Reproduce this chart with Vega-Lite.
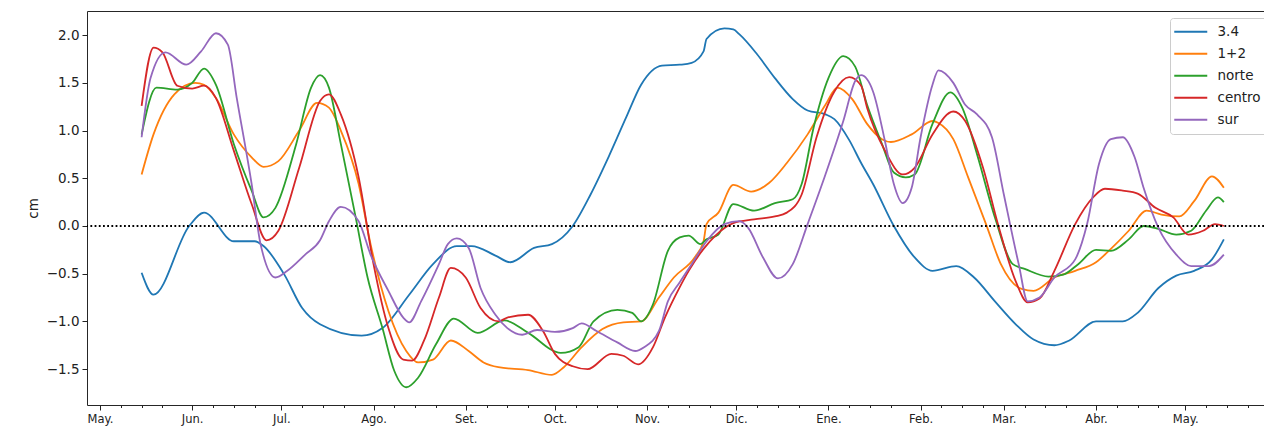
{
  "$schema": "https://vega.github.io/schema/vega-lite/v6.json",
  "width": 1177,
  "height": 394,
  "autosize": {"type": "none"},
  "padding": {"left": 87, "top": 11, "right": 0, "bottom": 27},
  "background": "white",
  "config": {
    "view": {"stroke": "#262626", "strokeWidth": 1},
    "font": "DejaVu Sans"
  },
  "datasets": {
    "series": [
      {"s":"3.4","d":"2024-05-15","v":-0.49},{"s":"3.4","d":"2024-05-19","v":-0.72},{"s":"3.4","d":"2024-05-31","v":0.0},{"s":"3.4","d":"2024-06-05","v":0.14},{"s":"3.4","d":"2024-06-15","v":-0.16},{"s":"3.4","d":"2024-06-22","v":-0.16},{"s":"3.4","d":"2024-06-25","v":-0.21},{"s":"3.4","d":"2024-07-02","v":-0.51},{"s":"3.4","d":"2024-07-08","v":-0.86},{"s":"3.4","d":"2024-07-14","v":-1.03},{"s":"3.4","d":"2024-07-28","v":-1.15},{"s":"3.4","d":"2024-08-04","v":-1.07},{"s":"3.4","d":"2024-08-13","v":-0.72},{"s":"3.4","d":"2024-08-21","v":-0.40},{"s":"3.4","d":"2024-08-29","v":-0.21},{"s":"3.4","d":"2024-09-03","v":-0.21},{"s":"3.4","d":"2024-09-11","v":-0.31},{"s":"3.4","d":"2024-09-16","v":-0.38},{"s":"3.4","d":"2024-09-24","v":-0.23},{"s":"3.4","d":"2024-09-30","v":-0.19},{"s":"3.4","d":"2024-10-07","v":0.0},{"s":"3.4","d":"2024-10-13","v":0.33},{"s":"3.4","d":"2024-10-19","v":0.72},{"s":"3.4","d":"2024-10-25","v":1.14},{"s":"3.4","d":"2024-10-30","v":1.48},{"s":"3.4","d":"2024-11-06","v":1.68},{"s":"3.4","d":"2024-11-12","v":1.69},{"s":"3.4","d":"2024-11-16","v":1.71},{"s":"3.4","d":"2024-11-20","v":1.83},{"s":"3.4","d":"2024-11-21","v":1.96},{"s":"3.4","d":"2024-11-27","v":2.07},{"s":"3.4","d":"2024-11-30","v":2.06},{"s":"3.4","d":"2024-12-02","v":2.01},{"s":"3.4","d":"2024-12-08","v":1.80},{"s":"3.4","d":"2024-12-14","v":1.55},{"s":"3.4","d":"2024-12-20","v":1.33},{"s":"3.4","d":"2024-12-25","v":1.21},{"s":"3.4","d":"2024-12-31","v":1.17},{"s":"3.4","d":"2025-01-03","v":1.12},{"s":"3.4","d":"2025-01-08","v":0.90},{"s":"3.4","d":"2025-01-12","v":0.66},{"s":"3.4","d":"2025-01-16","v":0.44},{"s":"3.4","d":"2025-01-23","v":0.0},{"s":"3.4","d":"2025-01-30","v":-0.33},{"s":"3.4","d":"2025-02-05","v":-0.47},{"s":"3.4","d":"2025-02-13","v":-0.42},{"s":"3.4","d":"2025-02-19","v":-0.54},{"s":"3.4","d":"2025-02-26","v":-0.79},{"s":"3.4","d":"2025-03-05","v":-1.03},{"s":"3.4","d":"2025-03-11","v":-1.19},{"s":"3.4","d":"2025-03-18","v":-1.25},{"s":"3.4","d":"2025-03-23","v":-1.20},{"s":"3.4","d":"2025-04-01","v":-1.00},{"s":"3.4","d":"2025-04-10","v":-1.00},{"s":"3.4","d":"2025-04-15","v":-0.91},{"s":"3.4","d":"2025-04-22","v":-0.65},{"s":"3.4","d":"2025-04-28","v":-0.52},{"s":"3.4","d":"2025-05-04","v":-0.47},{"s":"3.4","d":"2025-05-10","v":-0.35},{"s":"3.4","d":"2025-05-14","v":-0.14},

      {"s":"1+2","d":"2024-05-15","v":0.54},{"s":"1+2","d":"2024-05-19","v":0.96},{"s":"1+2","d":"2024-05-26","v":1.38},{"s":"1+2","d":"2024-06-02","v":1.50},{"s":"1+2","d":"2024-06-05","v":1.48},{"s":"1+2","d":"2024-06-09","v":1.34},{"s":"1+2","d":"2024-06-15","v":0.96},{"s":"1+2","d":"2024-06-21","v":0.72},{"s":"1+2","d":"2024-06-25","v":0.62},{"s":"1+2","d":"2024-06-30","v":0.68},{"s":"1+2","d":"2024-07-07","v":1.00},{"s":"1+2","d":"2024-07-13","v":1.29},{"s":"1+2","d":"2024-07-17","v":1.24},{"s":"1+2","d":"2024-07-21","v":1.00},{"s":"1+2","d":"2024-07-27","v":0.44},{"s":"1+2","d":"2024-07-31","v":-0.19},{"s":"1+2","d":"2024-08-06","v":-0.89},{"s":"1+2","d":"2024-08-12","v":-1.31},{"s":"1+2","d":"2024-08-16","v":-1.43},{"s":"1+2","d":"2024-08-21","v":-1.40},{"s":"1+2","d":"2024-08-27","v":-1.20},{"s":"1+2","d":"2024-09-02","v":-1.31},{"s":"1+2","d":"2024-09-07","v":-1.43},{"s":"1+2","d":"2024-09-12","v":-1.48},{"s":"1+2","d":"2024-09-22","v":-1.51},{"s":"1+2","d":"2024-09-30","v":-1.56},{"s":"1+2","d":"2024-10-04","v":-1.48},{"s":"1+2","d":"2024-10-10","v":-1.27},{"s":"1+2","d":"2024-10-17","v":-1.08},{"s":"1+2","d":"2024-10-24","v":-1.01},{"s":"1+2","d":"2024-10-30","v":-1.00},{"s":"1+2","d":"2024-11-05","v":-0.75},{"s":"1+2","d":"2024-11-10","v":-0.54},{"s":"1+2","d":"2024-11-17","v":-0.33},{"s":"1+2","d":"2024-11-20","v":-0.16},{"s":"1+2","d":"2024-11-21","v":0.02},{"s":"1+2","d":"2024-11-25","v":0.14},{"s":"1+2","d":"2024-11-30","v":0.43},{"s":"1+2","d":"2024-12-06","v":0.36},{"s":"1+2","d":"2024-12-12","v":0.45},{"s":"1+2","d":"2024-12-18","v":0.66},{"s":"1+2","d":"2024-12-25","v":0.96},{"s":"1+2","d":"2024-12-31","v":1.27},{"s":"1+2","d":"2025-01-04","v":1.45},{"s":"1+2","d":"2025-01-09","v":1.33},{"s":"1+2","d":"2025-01-14","v":1.07},{"s":"1+2","d":"2025-01-19","v":0.91},{"s":"1+2","d":"2025-01-22","v":0.88},{"s":"1+2","d":"2025-01-29","v":0.96},{"s":"1+2","d":"2025-02-05","v":1.10},{"s":"1+2","d":"2025-02-07","v":1.08},{"s":"1+2","d":"2025-02-12","v":0.91},{"s":"1+2","d":"2025-02-17","v":0.51},{"s":"1+2","d":"2025-02-23","v":0.02},{"s":"1+2","d":"2025-02-28","v":-0.40},{"s":"1+2","d":"2025-03-07","v":-0.66},{"s":"1+2","d":"2025-03-11","v":-0.68},{"s":"1+2","d":"2025-03-18","v":-0.54},{"s":"1+2","d":"2025-03-25","v":-0.47},{"s":"1+2","d":"2025-04-01","v":-0.38},{"s":"1+2","d":"2025-04-06","v":-0.24},{"s":"1+2","d":"2025-04-12","v":-0.05},{"s":"1+2","d":"2025-04-18","v":0.16},{"s":"1+2","d":"2025-04-23","v":0.12},{"s":"1+2","d":"2025-04-29","v":0.10},{"s":"1+2","d":"2025-05-04","v":0.26},{"s":"1+2","d":"2025-05-10","v":0.52},{"s":"1+2","d":"2025-05-14","v":0.40},

      {"s":"norte","d":"2024-05-15","v":0.96},{"s":"norte","d":"2024-05-20","v":1.45},{"s":"norte","d":"2024-05-27","v":1.43},{"s":"norte","d":"2024-06-01","v":1.50},{"s":"norte","d":"2024-06-05","v":1.65},{"s":"norte","d":"2024-06-09","v":1.48},{"s":"norte","d":"2024-06-15","v":0.86},{"s":"norte","d":"2024-06-21","v":0.37},{"s":"norte","d":"2024-06-25","v":0.09},{"s":"norte","d":"2024-06-29","v":0.19},{"s":"norte","d":"2024-07-06","v":0.86},{"s":"norte","d":"2024-07-11","v":1.45},{"s":"norte","d":"2024-07-14","v":1.58},{"s":"norte","d":"2024-07-17","v":1.45},{"s":"norte","d":"2024-07-21","v":0.86},{"s":"norte","d":"2024-07-26","v":0.09},{"s":"norte","d":"2024-07-30","v":-0.54},{"s":"norte","d":"2024-08-04","v":-1.07},{"s":"norte","d":"2024-08-08","v":-1.52},{"s":"norte","d":"2024-08-12","v":-1.69},{"s":"norte","d":"2024-08-16","v":-1.59},{"s":"norte","d":"2024-08-22","v":-1.24},{"s":"norte","d":"2024-08-28","v":-0.97},{"s":"norte","d":"2024-09-05","v":-1.12},{"s":"norte","d":"2024-09-14","v":-0.99},{"s":"norte","d":"2024-09-22","v":-1.12},{"s":"norte","d":"2024-10-03","v":-1.33},{"s":"norte","d":"2024-10-09","v":-1.27},{"s":"norte","d":"2024-10-14","v":-1.00},{"s":"norte","d":"2024-10-22","v":-0.88},{"s":"norte","d":"2024-10-27","v":-0.91},{"s":"norte","d":"2024-10-30","v":-1.00},{"s":"norte","d":"2024-11-03","v":-0.82},{"s":"norte","d":"2024-11-08","v":-0.26},{"s":"norte","d":"2024-11-12","v":-0.12},{"s":"norte","d":"2024-11-15","v":-0.10},{"s":"norte","d":"2024-11-19","v":-0.19},{"s":"norte","d":"2024-11-21","v":-0.14},{"s":"norte","d":"2024-11-25","v":-0.09},{"s":"norte","d":"2024-11-30","v":0.23},{"s":"norte","d":"2024-12-07","v":0.16},{"s":"norte","d":"2024-12-14","v":0.24},{"s":"norte","d":"2024-12-20","v":0.28},{"s":"norte","d":"2024-12-23","v":0.44},{"s":"norte","d":"2024-12-27","v":1.03},{"s":"norte","d":"2025-01-01","v":1.55},{"s":"norte","d":"2025-01-06","v":1.78},{"s":"norte","d":"2025-01-10","v":1.67},{"s":"norte","d":"2025-01-14","v":1.27},{"s":"norte","d":"2025-01-19","v":0.86},{"s":"norte","d":"2025-01-23","v":0.56},{"s":"norte","d":"2025-01-27","v":0.51},{"s":"norte","d":"2025-01-30","v":0.54},{"s":"norte","d":"2025-02-05","v":1.07},{"s":"norte","d":"2025-02-11","v":1.40},{"s":"norte","d":"2025-02-15","v":1.24},{"s":"norte","d":"2025-02-20","v":0.75},{"s":"norte","d":"2025-02-26","v":0.09},{"s":"norte","d":"2025-03-04","v":-0.40},{"s":"norte","d":"2025-03-08","v":-0.45},{"s":"norte","d":"2025-03-16","v":-0.53},{"s":"norte","d":"2025-03-21","v":-0.51},{"s":"norte","d":"2025-03-26","v":-0.40},{"s":"norte","d":"2025-04-01","v":-0.25},{"s":"norte","d":"2025-04-06","v":-0.26},{"s":"norte","d":"2025-04-12","v":-0.14},{"s":"norte","d":"2025-04-17","v":0.0},{"s":"norte","d":"2025-04-22","v":-0.03},{"s":"norte","d":"2025-04-28","v":-0.09},{"s":"norte","d":"2025-05-03","v":-0.05},{"s":"norte","d":"2025-05-08","v":0.16},{"s":"norte","d":"2025-05-12","v":0.30},{"s":"norte","d":"2025-05-14","v":0.25},

      {"s":"centro","d":"2024-05-15","v":1.26},{"s":"centro","d":"2024-05-19","v":1.87},{"s":"centro","d":"2024-05-22","v":1.82},{"s":"centro","d":"2024-05-27","v":1.47},{"s":"centro","d":"2024-06-01","v":1.44},{"s":"centro","d":"2024-06-05","v":1.47},{"s":"centro","d":"2024-06-09","v":1.34},{"s":"centro","d":"2024-06-15","v":0.79},{"s":"centro","d":"2024-06-21","v":0.23},{"s":"centro","d":"2024-06-26","v":-0.15},{"s":"centro","d":"2024-06-30","v":-0.05},{"s":"centro","d":"2024-07-07","v":0.61},{"s":"centro","d":"2024-07-14","v":1.31},{"s":"centro","d":"2024-07-17","v":1.38},{"s":"centro","d":"2024-07-21","v":1.17},{"s":"centro","d":"2024-07-27","v":0.51},{"s":"centro","d":"2024-08-01","v":-0.40},{"s":"centro","d":"2024-08-06","v":-1.07},{"s":"centro","d":"2024-08-11","v":-1.40},{"s":"centro","d":"2024-08-14","v":-1.41},{"s":"centro","d":"2024-08-18","v":-1.20},{"s":"centro","d":"2024-08-23","v":-0.75},{"s":"centro","d":"2024-08-27","v":-0.44},{"s":"centro","d":"2024-09-01","v":-0.54},{"s":"centro","d":"2024-09-06","v":-0.86},{"s":"centro","d":"2024-09-12","v":-1.00},{"s":"centro","d":"2024-09-15","v":-0.96},{"s":"centro","d":"2024-09-22","v":-0.93},{"s":"centro","d":"2024-09-27","v":-1.10},{"s":"centro","d":"2024-10-01","v":-1.34},{"s":"centro","d":"2024-10-07","v":-1.47},{"s":"centro","d":"2024-10-12","v":-1.50},{"s":"centro","d":"2024-10-20","v":-1.34},{"s":"centro","d":"2024-10-24","v":-1.36},{"s":"centro","d":"2024-10-29","v":-1.45},{"s":"centro","d":"2024-11-03","v":-1.27},{"s":"centro","d":"2024-11-07","v":-0.96},{"s":"centro","d":"2024-11-12","v":-0.64},{"s":"centro","d":"2024-11-15","v":-0.47},{"s":"centro","d":"2024-11-20","v":-0.24},{"s":"centro","d":"2024-11-24","v":-0.10},{"s":"centro","d":"2024-11-30","v":0.03},{"s":"centro","d":"2024-12-07","v":0.07},{"s":"centro","d":"2024-12-14","v":0.10},{"s":"centro","d":"2024-12-18","v":0.14},{"s":"centro","d":"2024-12-23","v":0.33},{"s":"centro","d":"2024-12-28","v":0.93},{"s":"centro","d":"2025-01-03","v":1.41},{"s":"centro","d":"2025-01-08","v":1.56},{"s":"centro","d":"2025-01-12","v":1.47},{"s":"centro","d":"2025-01-14","v":1.24},{"s":"centro","d":"2025-01-20","v":0.79},{"s":"centro","d":"2025-01-26","v":0.54},{"s":"centro","d":"2025-01-30","v":0.61},{"s":"centro","d":"2025-02-05","v":0.96},{"s":"centro","d":"2025-02-12","v":1.20},{"s":"centro","d":"2025-02-16","v":1.10},{"s":"centro","d":"2025-02-22","v":0.61},{"s":"centro","d":"2025-02-27","v":0.02},{"s":"centro","d":"2025-03-05","v":-0.58},{"s":"centro","d":"2025-03-09","v":-0.80},{"s":"centro","d":"2025-03-13","v":-0.76},{"s":"centro","d":"2025-03-18","v":-0.47},{"s":"centro","d":"2025-03-25","v":0.02},{"s":"centro","d":"2025-03-31","v":0.30},{"s":"centro","d":"2025-04-04","v":0.39},{"s":"centro","d":"2025-04-10","v":0.37},{"s":"centro","d":"2025-04-15","v":0.34},{"s":"centro","d":"2025-04-21","v":0.19},{"s":"centro","d":"2025-04-27","v":0.09},{"s":"centro","d":"2025-05-02","v":-0.09},{"s":"centro","d":"2025-05-07","v":-0.05},{"s":"centro","d":"2025-05-11","v":0.02},{"s":"centro","d":"2025-05-14","v":0.0},

      {"s":"sur","d":"2024-05-15","v":0.93},{"s":"sur","d":"2024-05-18","v":1.55},{"s":"sur","d":"2024-05-23","v":1.82},{"s":"sur","d":"2024-05-30","v":1.69},{"s":"sur","d":"2024-06-04","v":1.83},{"s":"sur","d":"2024-06-09","v":2.02},{"s":"sur","d":"2024-06-13","v":1.90},{"s":"sur","d":"2024-06-16","v":1.34},{"s":"sur","d":"2024-06-21","v":0.44},{"s":"sur","d":"2024-06-24","v":-0.19},{"s":"sur","d":"2024-06-29","v":-0.54},{"s":"sur","d":"2024-07-03","v":-0.47},{"s":"sur","d":"2024-07-09","v":-0.30},{"s":"sur","d":"2024-07-14","v":-0.15},{"s":"sur","d":"2024-07-17","v":0.05},{"s":"sur","d":"2024-07-21","v":0.20},{"s":"sur","d":"2024-07-27","v":0.05},{"s":"sur","d":"2024-07-31","v":-0.30},{"s":"sur","d":"2024-08-06","v":-0.68},{"s":"sur","d":"2024-08-11","v":-0.96},{"s":"sur","d":"2024-08-13","v":-1.01},{"s":"sur","d":"2024-08-17","v":-0.79},{"s":"sur","d":"2024-08-23","v":-0.40},{"s":"sur","d":"2024-08-26","v":-0.19},{"s":"sur","d":"2024-08-29","v":-0.13},{"s":"sur","d":"2024-09-02","v":-0.23},{"s":"sur","d":"2024-09-06","v":-0.65},{"s":"sur","d":"2024-09-11","v":-0.93},{"s":"sur","d":"2024-09-15","v":-1.07},{"s":"sur","d":"2024-09-20","v":-1.14},{"s":"sur","d":"2024-09-25","v":-1.09},{"s":"sur","d":"2024-10-01","v":-1.11},{"s":"sur","d":"2024-10-07","v":-1.07},{"s":"sur","d":"2024-10-10","v":-1.02},{"s":"sur","d":"2024-10-15","v":-1.10},{"s":"sur","d":"2024-10-22","v":-1.22},{"s":"sur","d":"2024-10-28","v":-1.31},{"s":"sur","d":"2024-10-31","v":-1.27},{"s":"sur","d":"2024-11-05","v":-1.10},{"s":"sur","d":"2024-11-08","v":-0.79},{"s":"sur","d":"2024-11-12","v":-0.59},{"s":"sur","d":"2024-11-16","v":-0.40},{"s":"sur","d":"2024-11-21","v":-0.16},{"s":"sur","d":"2024-11-27","v":0.02},{"s":"sur","d":"2024-12-02","v":0.05},{"s":"sur","d":"2024-12-05","v":-0.02},{"s":"sur","d":"2024-12-10","v":-0.33},{"s":"sur","d":"2024-12-15","v":-0.55},{"s":"sur","d":"2024-12-20","v":-0.40},{"s":"sur","d":"2024-12-25","v":0.02},{"s":"sur","d":"2024-12-31","v":0.54},{"s":"sur","d":"2025-01-06","v":1.10},{"s":"sur","d":"2025-01-10","v":1.52},{"s":"sur","d":"2025-01-12","v":1.58},{"s":"sur","d":"2025-01-16","v":1.41},{"s":"sur","d":"2025-01-20","v":0.89},{"s":"sur","d":"2025-01-23","v":0.44},{"s":"sur","d":"2025-01-26","v":0.24},{"s":"sur","d":"2025-01-29","v":0.40},{"s":"sur","d":"2025-02-01","v":0.93},{"s":"sur","d":"2025-02-05","v":1.48},{"s":"sur","d":"2025-02-07","v":1.63},{"s":"sur","d":"2025-02-12","v":1.50},{"s":"sur","d":"2025-02-16","v":1.27},{"s":"sur","d":"2025-02-20","v":1.17},{"s":"sur","d":"2025-02-25","v":0.93},{"s":"sur","d":"2025-03-01","v":0.33},{"s":"sur","d":"2025-03-06","v":-0.40},{"s":"sur","d":"2025-03-09","v":-0.79},{"s":"sur","d":"2025-03-13","v":-0.75},{"s":"sur","d":"2025-03-18","v":-0.54},{"s":"sur","d":"2025-03-25","v":-0.35},{"s":"sur","d":"2025-03-29","v":0.02},{"s":"sur","d":"2025-04-02","v":0.65},{"s":"sur","d":"2025-04-06","v":0.91},{"s":"sur","d":"2025-04-10","v":0.93},{"s":"sur","d":"2025-04-14","v":0.72},{"s":"sur","d":"2025-04-17","v":0.40},{"s":"sur","d":"2025-04-22","v":-0.02},{"s":"sur","d":"2025-04-28","v":-0.30},{"s":"sur","d":"2025-05-03","v":-0.42},{"s":"sur","d":"2025-05-09","v":-0.42},{"s":"sur","d":"2025-05-14","v":-0.30}
    ]
  },
  "layer": [
    {
      "data": {"name": "series"},
      "mark": {"type": "line", "strokeWidth": 1.8, "interpolate": "monotone"},
      "encoding": {
        "x": {
          "field": "d", "type": "temporal",
          "scale": {"type": "utc", "domain": [
            {"year": 2024, "month": 4, "date": 26, "hours": 15, "minutes": 3, "utc": true},
            {"year": 2025, "month": 5, "date": 27, "hours": 12, "minutes": 0, "utc": true}
          ]},
          "axis": {
            "title": null, "grid": false, "domain": false,
            "values": [
              {"year":2024,"month":5,"date":1,"utc":true},{"year":2024,"month":5,"date":8,"utc":true},{"year":2024,"month":5,"date":15,"utc":true},{"year":2024,"month":5,"date":22,"utc":true},
              {"year":2024,"month":6,"date":1,"utc":true},{"year":2024,"month":6,"date":8,"utc":true},{"year":2024,"month":6,"date":15,"utc":true},{"year":2024,"month":6,"date":22,"utc":true},
              {"year":2024,"month":7,"date":1,"utc":true},{"year":2024,"month":7,"date":8,"utc":true},{"year":2024,"month":7,"date":15,"utc":true},{"year":2024,"month":7,"date":22,"utc":true},
              {"year":2024,"month":8,"date":1,"utc":true},{"year":2024,"month":8,"date":8,"utc":true},{"year":2024,"month":8,"date":15,"utc":true},{"year":2024,"month":8,"date":22,"utc":true},
              {"year":2024,"month":9,"date":1,"utc":true},{"year":2024,"month":9,"date":8,"utc":true},{"year":2024,"month":9,"date":15,"utc":true},{"year":2024,"month":9,"date":22,"utc":true},
              {"year":2024,"month":10,"date":1,"utc":true},{"year":2024,"month":10,"date":8,"utc":true},{"year":2024,"month":10,"date":15,"utc":true},{"year":2024,"month":10,"date":22,"utc":true},
              {"year":2024,"month":11,"date":1,"utc":true},{"year":2024,"month":11,"date":8,"utc":true},{"year":2024,"month":11,"date":15,"utc":true},{"year":2024,"month":11,"date":22,"utc":true},
              {"year":2024,"month":12,"date":1,"utc":true},{"year":2024,"month":12,"date":8,"utc":true},{"year":2024,"month":12,"date":15,"utc":true},{"year":2024,"month":12,"date":22,"utc":true},
              {"year":2025,"month":1,"date":1,"utc":true},{"year":2025,"month":1,"date":8,"utc":true},{"year":2025,"month":1,"date":15,"utc":true},{"year":2025,"month":1,"date":22,"utc":true},
              {"year":2025,"month":2,"date":1,"utc":true},{"year":2025,"month":2,"date":8,"utc":true},{"year":2025,"month":2,"date":15,"utc":true},{"year":2025,"month":2,"date":22,"utc":true},
              {"year":2025,"month":3,"date":1,"utc":true},{"year":2025,"month":3,"date":8,"utc":true},{"year":2025,"month":3,"date":15,"utc":true},{"year":2025,"month":3,"date":22,"utc":true},
              {"year":2025,"month":4,"date":1,"utc":true},{"year":2025,"month":4,"date":8,"utc":true},{"year":2025,"month":4,"date":15,"utc":true},{"year":2025,"month":4,"date":22,"utc":true},
              {"year":2025,"month":5,"date":1,"utc":true},{"year":2025,"month":5,"date":8,"utc":true},{"year":2025,"month":5,"date":15,"utc":true},{"year":2025,"month":5,"date":22,"utc":true}
            ],
            "labelExpr": "utcdate(datum.value) == 1 ? ['Ene.','Feb.','Mar.','Abr.','May.','Jun.','Jul.','Ago.','Set.','Oct.','Nov.','Dic.'][utcmonth(datum.value)] : ''",
            "labelOverlap": false, "labelFlush": false,
            "labelFont": "DejaVu Sans", "labelFontSize": 11.5, "labelColor": "#222222",
            "labelPadding": 3,
            "tickColor": "#222222", "tickWidth": 1,
            "tickSize": {"condition": {"test": "utcdate(datum.value) == 1", "value": 5}, "value": 2.5}
          }
        },
        "y": {
          "field": "v", "type": "quantitative",
          "scale": {"domain": [-1.876, 2.253], "nice": false, "zero": false},
          "axis": {
            "title": "cm", "titleFont": "DejaVu Sans", "titleFontSize": 13.5, "titleFontWeight": "normal", "titleColor": "#222222", "titlePadding": 6,
            "grid": false, "domain": false,
            "values": [-1.5, -1, -0.5, 0, 0.5, 1, 1.5, 2],
            "labelExpr": "replace(format(datum.value, '.1f'), '-', '\u2212')",
            "labelFont": "DejaVu Sans", "labelFontSize": 13.5, "labelColor": "#222222",
            "labelPadding": 3, "tickSize": 5, "tickColor": "#222222"
          }
        },
        "color": {
          "field": "s", "type": "nominal",
          "scale": {"domain": ["3.4", "1+2", "norte", "centro", "sur"], "range": ["#1f77b4", "#ff7f0e", "#2ca02c", "#d62728", "#9467bd"]},
          "legend": {
            "title": null, "orient": "none", "legendX": 1083, "legendY": 7,
            "symbolType": "M-3,0H3", "symbolSize": 121, "symbolStrokeWidth": 2, "symbolOffset": 7,
            "labelFont": "DejaVu Sans", "labelFontSize": 13.5, "labelColor": "#222222", "labelOffset": 20,
            "rowPadding": 7, "padding": 7,
            "strokeColor": "#cccccc", "fillColor": "white", "cornerRadius": 3
          }
        }
      }
    },
    {
      "data": {"values": [{}]},
      "mark": {"type": "rule", "color": "black", "strokeWidth": 1.8, "strokeDash": [1.8, 2.4]},
      "encoding": {"y": {"datum": 0}}
    }
  ]
}
